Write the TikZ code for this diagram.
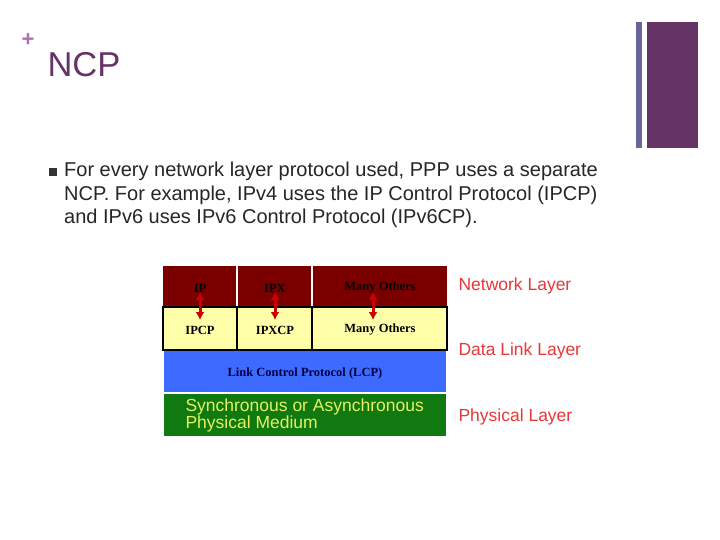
\documentclass[tikz,border=0pt]{standalone}
\usepackage{fontspec}
\setmainfont{Liberation Sans}
\newfontfamily\serifb{Liberation Serif}
\usetikzlibrary{arrows.meta}
\definecolor{plum}{HTML}{663366}
\definecolor{slate}{HTML}{666699}
\definecolor{pinkp}{HTML}{B070B8}
\definecolor{netred}{HTML}{7A0000}
\definecolor{ylw}{HTML}{FFFFAA}
\definecolor{blu}{HTML}{3D6BFF}
\definecolor{grn}{HTML}{107A10}
\definecolor{lyr}{HTML}{E83838}
\definecolor{ygt}{HTML}{E6F060}
\tikzset{cell/.style={font=\serifb\bfseries\fontsize{12.5}{13}\selectfont},
 lay/.style={anchor=west,text=lyr,font=\fontsize{17.5}{20}\selectfont},
 dbl/.style={red!80!black,line width=3pt,{Latex[length=8pt,width=9pt]}-{Latex[length=8pt,width=9pt]}}}
\begin{document}
\begin{tikzpicture}[x=1pt,y=-1pt]
\useasboundingbox (0,0) rectangle (720,540);
\fill[white] (0,0) rectangle (720,540);
\fill[slate] (636,22) rectangle (642,148);
\fill[plum] (647,22) rectangle (698,148);
\node[text=pinkp,font=\bfseries\fontsize{22}{22}\selectfont] (plus) at (28,40) {+};
\node[anchor=west,text=plum,font=\fontsize{34.5}{36}\selectfont] (title) at (44,65) {NCP};
\fill[black!80] (49,168) rectangle (57,176);
\node[anchor=north west,align=left,font=\fontsize{20}{23.5}\selectfont,text=black!85,inner sep=0pt] (body) at (64,162)
 {For every network layer protocol used, PPP uses a separate\\NCP. For example, IPv4 uses the IP Control Protocol (IPCP)\\and IPv6 uses IPv6 Control Protocol (IPv6CP).};
% network row
\fill[netred] (163,266) rectangle (447,307);
\draw[white,line width=1.5pt] (237,266) -- (237,307) (312,266) -- (312,307);
\node[cell] (ip) at (200,288) {IP};
\node[cell] (ipx) at (275,288) {IPX};
\node[cell] (mo1) at (380,288) {Many Others};
% yellow row
\draw[fill=ylw,line width=1.3pt] (163,307) rectangle (447,350);
\draw[line width=1.3pt] (237,307) -- (237,350) (312,307) -- (312,350);
\node[cell] (ipcp) at (200,330) {IPCP};
\node[cell] (ipxcp) at (275,330) {IPXCP};
\node[cell] (mo2) at (380,330) {Many Others};
\fill[blu] (164,351) rectangle (446,392);
\node[cell,text=black!75!blue] (lcp) at (305,373) {Link Control Protocol (LCP)};
\fill[grn] (164,394) rectangle (446,436);
\node[anchor=west,align=left,text=ygt,font=\fontsize{17.5}{17}\selectfont] (phy) at (182,415) {Synchronous or Asynchronous\\Physical Medium};
\draw[dbl] (200,292) -- (200,320);
\draw[dbl] (275,292) -- (275,320);
\draw[dbl] (373,292) -- (373,320);
\node[lay] (nl) at (455,286) {Network Layer};
\node[lay] (dl) at (455,351) {Data Link Layer};
\node[lay] (pl) at (455,417) {Physical Layer};
\end{tikzpicture}
\end{document}
